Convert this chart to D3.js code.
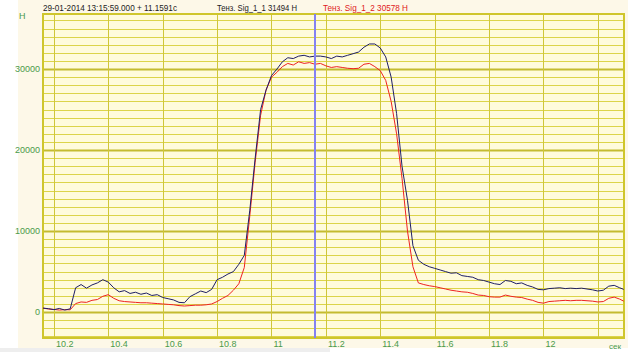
<!DOCTYPE html>
<html>
<head>
<meta charset="utf-8">
<script src="https://cdn.jsdelivr.net/npm/d3@7"></script>
<style>
  body { margin: 0; background: #ffffff; }
  text { font-family: "Liberation Sans", Arial, sans-serif; }
</style>
</head>
<body>
<div id="chart"></div>
<script>
// time, seconds
var times = [
  10.16, 10.18, 10.20, 10.22, 10.24, 10.26, 10.28, 10.30, 10.32, 10.34,
  10.36, 10.38, 10.40, 10.42, 10.44, 10.46, 10.48, 10.50, 10.52, 10.54,
  10.56, 10.58, 10.60, 10.62, 10.64, 10.66, 10.68, 10.70, 10.72, 10.74,
  10.76, 10.78, 10.80, 10.82, 10.84, 10.86, 10.88, 10.90, 10.92, 10.94,
  10.96, 10.98, 11.00, 11.02, 11.04, 11.06, 11.08, 11.10, 11.12, 11.14,
  11.16, 11.18, 11.20, 11.22, 11.24, 11.26, 11.28, 11.30, 11.32, 11.34,
  11.36, 11.38, 11.40, 11.42, 11.44, 11.46, 11.48, 11.50, 11.52, 11.54,
  11.56, 11.58, 11.60, 11.62, 11.64, 11.66, 11.68, 11.70, 11.72, 11.74,
  11.76, 11.78, 11.80, 11.82, 11.84, 11.86, 11.88, 11.90, 11.92, 11.94,
  11.96, 11.98, 12.00, 12.02, 12.04, 12.06, 12.08, 12.10, 12.12, 12.14,
  12.16, 12.18, 12.20, 12.22, 12.24, 12.26, 12.28, 12.295
];

// Тенз. Sig_1_1 (blue)
var sig1 = [
  490, 420, 300, 450, 250, 400, 3000, 3400, 2950, 3350,
  3600, 4000, 3700, 3000, 2500, 2650, 2300, 2450, 2200, 2350,
  2050, 2150, 1800, 1650, 1500, 1200, 1150, 1900, 2250, 2600,
  2400, 2800, 4000, 4300, 4700, 5000, 5900, 7000, 12500, 19000,
  25000, 27400, 29200, 30000, 30900, 31400, 31300, 31600, 31700, 31500,
  31600, 31600, 31500, 31300, 31600, 31500, 31700, 31900, 32100, 32700,
  33100, 33100, 32600, 31500, 29000, 24500, 18000, 13800, 8200, 6400,
  5900, 5600, 5400, 5200, 5000, 4800, 4850, 4500, 4400, 4300,
  4000, 3900, 3700, 3500, 3400, 3900, 3800, 3500, 3600, 3300,
  3100, 2800, 2750, 2900, 2950, 3000, 2900, 2950, 2900, 2950,
  2850, 2750, 2600, 2700, 3200, 3300, 3000, 2800
];

// Тенз. Sig_1_2 (red)
var sig2 = [
  490, 380, 330, 250, 300, 280, 1050, 1250, 1200, 1450,
  1550, 1950, 2150, 1700, 1400, 1300, 1250, 1200, 1150, 1150,
  1100, 1050, 1000, 950, 900, 800, 750, 800, 850, 850,
  900, 1000, 1300, 1700, 2050, 2700, 3500, 5500, 11800, 18500,
  24300, 27400, 29000, 29600, 30300, 30700, 30500, 30900, 30700, 30800,
  30600, 30700, 30400, 30200, 30300, 30200, 30100, 30050, 30100, 30600,
  30700, 30300, 29800, 28600, 26000, 22000, 16500, 10000, 5600, 3600,
  3400, 3250, 3150, 3000, 2850, 2700, 2600, 2500, 2450, 2300,
  2100, 2050, 1900, 1850, 1850, 2100, 1950, 1850, 1800, 1600,
  1450, 1200, 1100, 1300, 1350, 1400, 1450, 1400, 1450, 1450,
  1400, 1350, 1250, 1300, 1700, 1850, 1600, 1350
];

var xTicks = [10.2, 10.4, 10.6, 10.8, 11, 11.2, 11.4, 11.6, 11.8, 12, 12.2];
var xTickLabels = ["10.2", "10.4", "10.6", "10.8", "11", "11.2", "11.4", "11.6", "11.8", "12", ""];
var yTicks = [0, 10000, 20000, 30000];

var cursorTime = 11.1591;
var headerText = "29-01-2014 13:15:59.000 + 11.1591c";
var sig1Label = "Тенз. Sig_1_1 31494 Н";
var sig2Label = "Тенз. Sig_1_2 30578 Н";

var width = 641, height = 352;
var plot = {left: 43, right: 624, top: 14, bottom: 338};

var svg = d3.select("#chart").append("svg")
    .attr("width", width)
    .attr("height", height);

// panel background
svg.append("rect")
    .attr("x", 18).attr("y", 0)
    .attr("width", 610).attr("height", 348)
    .attr("fill", "#fdf8e8");

svg.append("rect")
    .attr("x", 0).attr("y", 348)
    .attr("width", 330).attr("height", 4)
    .attr("fill", "#eeeeee");

var x = d3.scaleLinear()
    .domain([10.16, 12.296])
    .range([plot.left, plot.right]);

var y = d3.scaleLinear()
    .domain([-3200, 36800])
    .range([plot.bottom, plot.top]);

svg.append("rect")
    .attr("x", plot.left).attr("y", plot.top)
    .attr("width", plot.right - plot.left)
    .attr("height", plot.bottom - plot.top)
    .attr("fill", "#fffbdc");

// horizontal grid every 1000, heavier every 10000
var hLines = d3.range(-3000, 36001, 1000);
svg.append("g").selectAll("line")
    .data(hLines)
    .enter().append("line")
    .attr("x1", plot.left).attr("x2", plot.right)
    .attr("y1", function(d) { return Math.round(y(d)) + 0.5; })
    .attr("y2", function(d) { return Math.round(y(d)) + 0.5; })
    .attr("stroke", function(d) { return d % 10000 === 0 ? "#c4bb30" : "#dcd44a"; })
    .attr("stroke-width", function(d) { return d % 10000 === 0 ? 2 : 1; });

// vertical grid
svg.append("g").selectAll("line")
    .data(xTicks)
    .enter().append("line")
    .attr("x1", function(d) { return Math.round(x(d)) + 0.5; })
    .attr("x2", function(d) { return Math.round(x(d)) + 0.5; })
    .attr("y1", plot.top).attr("y2", plot.bottom)
    .attr("stroke", "#cfc63a")
    .attr("stroke-width", 1);

// border
svg.append("rect")
    .attr("x", plot.left).attr("y", plot.top)
    .attr("width", plot.right - plot.left)
    .attr("height", plot.bottom - plot.top)
    .attr("fill", "none")
    .attr("stroke", "#cfc62c")
    .attr("stroke-width", 2);

// axis labels
svg.append("g").selectAll("text")
    .data(yTicks)
    .enter().append("text")
    .attr("x", 40)
    .attr("y", function(d) { return y(d) + 3; })
    .attr("text-anchor", "end")
    .attr("font-size", 9)
    .attr("fill", "#4a9a4a")
    .text(function(d) { return d; });

svg.append("g").selectAll("text")
    .data(xTicks)
    .enter().append("text")
    .attr("x", function(d) { return x(d) + 2; })
    .attr("y", 347)
    .attr("font-size", 9)
    .attr("fill", "#4a9a4a")
    .text(function(d, i) { return xTickLabels[i]; });

svg.append("text")
    .attr("x", 19).attr("y", 19)
    .attr("font-size", 9)
    .attr("fill", "#4a9a4a")
    .text("Н");

svg.append("text")
    .attr("x", 609).attr("y", 349)
    .attr("font-size", 8)
    .attr("fill", "#4a9a4a")
    .text("сек");

// signal lines
var line = d3.line()
    .x(function(d) { return x(d[0]); })
    .y(function(d) { return y(d[1]); });

svg.append("path")
    .datum(d3.zip(times, sig2))
    .attr("fill", "none")
    .attr("stroke", "#ee2222")
    .attr("stroke-width", 1)
    .attr("d", line);

svg.append("path")
    .datum(d3.zip(times, sig1))
    .attr("fill", "none")
    .attr("stroke", "#1e1e66")
    .attr("stroke-width", 1)
    .attr("d", line);

// cursor, 2px wide on whole pixels
var cx = Math.round(x(cursorTime));
svg.append("line")
    .attr("x1", cx)
    .attr("x2", cx)
    .attr("y1", plot.top).attr("y2", plot.bottom)
    .attr("stroke", "#8482f2")
    .attr("stroke-width", 2);

// header
svg.append("text")
    .attr("x", 43).attr("y", 11)
    .attr("font-size", 9)
    .attr("textLength", 134)
    .attr("lengthAdjust", "spacingAndGlyphs")
    .attr("fill", "#222222")
    .text(headerText);

svg.append("text")
    .attr("x", 217).attr("y", 11)
    .attr("font-size", 9)
    .attr("textLength", 80)
    .attr("lengthAdjust", "spacingAndGlyphs")
    .attr("fill", "#222222")
    .text(sig1Label);

svg.append("text")
    .attr("x", 323).attr("y", 11)
    .attr("font-size", 9)
    .attr("textLength", 85)
    .attr("lengthAdjust", "spacingAndGlyphs")
    .attr("fill", "#e02020")
    .text(sig2Label);
</script>
</body>
</html>
